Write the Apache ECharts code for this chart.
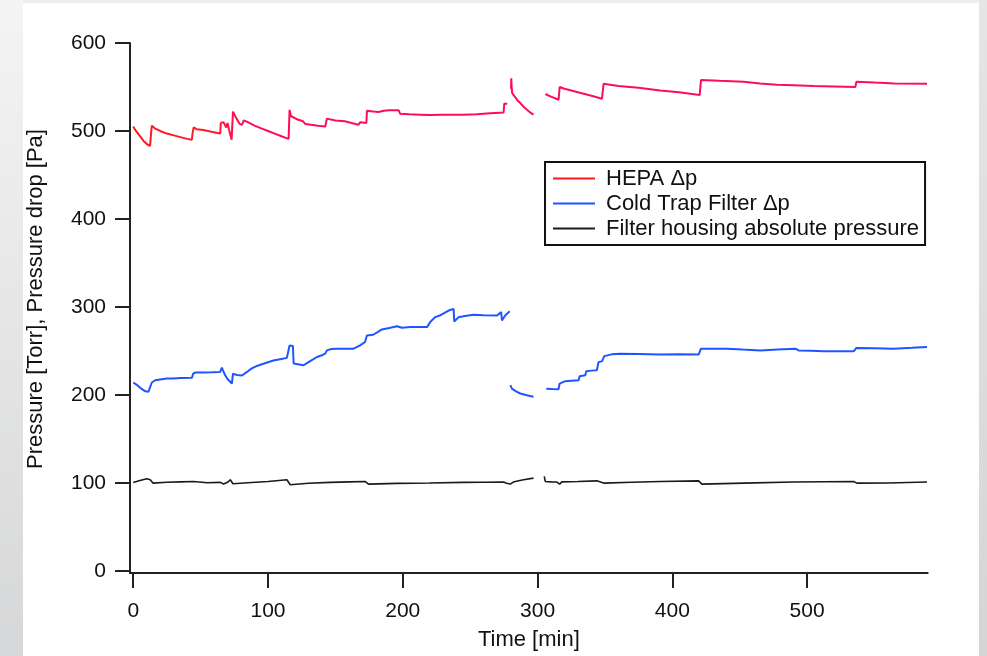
<!DOCTYPE html>
<html>
<head>
<meta charset="utf-8">
<script src="https://cdn.jsdelivr.net/npm/echarts@6/dist/echarts.min.js"></script>
<style>
html,body{margin:0;padding:0;background:#fff;}
#chart{width:987px;height:656px;}
</style>
</head>
<body>
<div id="chart"></div>
<script>
// ---- data (time [min], value) ----
var xTicks = [0, 100, 200, 300, 400, 500];
var yTicks = [0, 100, 200, 300, 400, 500, 600];
var seriesNames = ['HEPA Δp', 'Cold Trap Filter Δp', 'Filter housing absolute pressure'];

var hepaData = [
  [0,505],[2,500],[5,494],[8,488],[11,484],[12.5,483],[13.2,497],[13.8,506],[16,503],[20,500],[25,497],[30,495],[35,493],[40,491],[43.5,490],
  [44,497],[44.8,504],[47,502],[52,501],[58,499],[64.5,497],[65,509],[67,510],[68,507],[69,504],[70,509],[71,502],[72.5,493],[73,490],
  [74,522],[76,516],[79,508],[80.7,507],[82,512],[85,510],[90,506],[95,503],[100,500],[105,497],[110,494],[115.3,491],
  [116,524],[117,517],[118,515],[122,513],[126,511],[127.6,508],[132,507],[137,506],[142.5,505],[143.7,514],[150,512],[157,511],
  [162,509],[167,507],[168.5,510],[173,509],[173.4,523],[178,522],[182,521.6],[186,523],[190,523.4],[197,523.4],[198,519.6],
  [205,519],[213,518.5],[220,518],[230,518.5],[245,518.5],[255,519],[265,520],[274.8,521],[275.3,531],[277.5,531],
  null,
  [280.3,548],[280.5,560],[280.8,550],[281.2,543],[282.2,541],[285,535],[287.2,531.7],[290,527],[292.2,524],[295,520.5],[297,518.5],
  null,
  [305.8,542],[310,539],[315.6,535.5],[316.4,550],[320,548],[330,544],[340,540],[347.8,536.6],[349,553.6],[360,551],[375,549],
  [391,546],[405,544],[420.3,541],[421.3,558],[435,557],[453,556],[465,554],[477.7,552.5],[490,552],[505,551],[520,550.5],
  [535.8,550],[536.6,556],[550,555],[565,554],[589,553.6]
];

var coldTrapData = [
  [0,214],[3,211],[6,207],[9,204],[11.3,203.5],[12.5,204],[13.8,214],[16.3,216.6],[20,217.5],[25,218.5],[30,218.5],[35,219],[43.5,219.3],
  [44.5,224],[46,225.3],[52,225.5],[58,225.7],[64.5,226],[65.8,231],[66.5,228],[68.3,222],[70,218],[73.2,212.8],[74,224],[77,222.5],
  [80.7,222],[84.4,226],[88,230],[91.8,232.8],[96,235],[100,237],[104,239],[109,240.5],[114,242],[114.5,243.5],[116,256],[118.5,255.5],
  [119,235.5],[123,234.5],[126.4,233.6],[131,238],[136.3,243],[140,245],[142.5,246.8],[143.7,250.5],[147,252],[151,252.5],[157,252.5],
  [163.5,252.5],[168,256],[172,260],[173.4,267.5],[178,268.3],[181,271],[184.5,274.3],[190,276],[195.7,278],[199.4,276.2],[205.6,277],
  [212,277],[218,277],[220.4,282.7],[224,288.3],[228,290.5],[234,295.8],[237.7,297.7],[238.2,283.4],[241.4,288.3],[246,289.5],
  [252.5,291],[260,290.5],[270,290.2],[273,294],[273.6,284.5],[276,290.2],[279.3,295],
  null,
  [279.8,211],[281,207],[284,204],[287.2,201.5],[292,199.5],[297,197.8],
  null,
  [306.5,207],[311,206.5],[315.6,206.4],[316.4,212.8],[320.6,215.5],[325,216],[330.5,216.6],[331.2,221],[335.4,222.2],[336.2,226.8],
  [340,227.5],[344,228],[345.3,237.4],[347.8,238],[349.5,244],[355,246],[361.4,246.8],[375,246.5],[391,245.7],[405,246],[419.5,245.7],
  [421.3,252.5],[430,252.5],[440.6,252.5],[452,251.5],[465.3,250.5],[478,251.5],[491.3,252.5],[493.7,250.5],[503,250],[512.3,249.4],
  [534.5,249.4],[536.6,253.3],[550,253],[564,252.5],[578,253.5],[589,254.4]
];

var housingData = [
  [0,100.4],[5,102.5],[10,104.5],[12.6,103.4],[14.6,99.6],[25,100.5],[35,101],[44.7,101.5],[45,99.6],[55,100],[64.6,100.4],[67,98.5],
  [70,100.5],[72,103.4],[73,102],[74,98.8],[85,100],[100,101.5],[114,103.4],[116.5,97.7],[130,99.5],[146,100.4],[160,101],[172,101.5],
  [174.6,98.5],[195.7,99.3],[220,99.8],[245,100.4],[260,100.6],[274.8,100.8],[277,99.5],[279.8,98.5],[282,100.8],[286,102.2],
  [289.6,103.4],[297,105.3],
  null,
  [305,107.2],[305.7,101.5],[310,101],[314.4,100.8],[316.4,98.5],[318,101],[330,101.5],[344,102.2],[349,99.6],[370,100.5],[391,101.5],
  [419.5,102.2],[422,98.5],[453,99.6],[490,100.8],[534.5,101.5],[537,99.6],[560,99.8],[589,100.8]
];

// ---- chart ----
var FONT = '"Liberation Sans", Arial, sans-serif';
var chart = echarts.init(document.getElementById('chart'), null, {renderer: 'canvas'});

function toSeriesData(arr) {
  return arr.map(function (d) { return d === null ? [null, null] : d; });
}

var option = {
  backgroundColor: '#ffffff',
  animation: false,
  graphic: [
    {type: 'rect', left: 0, top: 0, shape: {width: 23, height: 656}, silent: true,
     style: {fill: {type: 'linear', x: 0, y: 0, x2: 0, y2: 1, colorStops: [{offset: 0, color: '#f4f4f4'}, {offset: 1, color: '#d6d7d8'}]}}},
    {type: 'rect', left: 23, top: 0, shape: {width: 956, height: 3}, silent: true, style: {fill: '#eeeeee'}},
    {type: 'rect', left: 979, top: 0, shape: {width: 8, height: 656}, silent: true,
     style: {fill: {type: 'linear', x: 0, y: 0, x2: 0, y2: 1, colorStops: [{offset: 0, color: '#e4e5e6'}, {offset: 1, color: '#d4d5d6'}]}}}
  ],
  grid: {left: 130, right: 59.3, top: 43, bottom: 80.7, containLabel: false},
  legend: {
    orient: 'vertical',
    left: 545, top: 162,
    padding: [4, 6, 4, 8],
    itemGap: 0,
    itemWidth: 42,
    itemHeight: 2,
    icon: 'rect',
    borderColor: '#111',
    borderWidth: 2,
    backgroundColor: '#fff',
    textStyle: {fontFamily: FONT, fontSize: 22, color: '#111', lineHeight: 25, padding: [0, 0, 0, 6]},
    data: seriesNames
  },
  xAxis: {
    type: 'value',
    min: -2.4, max: 589.5,
    name: 'Time [min]',
    nameLocation: 'middle',
    nameGap: 56,
    nameTextStyle: {fontFamily: FONT, fontSize: 22, color: '#111'},
    axisLine: {show: true, onZero: false, lineStyle: {color: '#222', width: 2}},
    axisTick: {show: true, inside: false, length: 15, customValues: xTicks, lineStyle: {color: '#222', width: 2}},
    axisLabel: {customValues: xTicks, margin: 28, fontFamily: FONT, fontSize: 21, color: '#111'},
    splitLine: {show: false}
  },
  yAxis: {
    type: 'value',
    min: -2.6, max: 600,
    name: 'Pressure [Torr], Pressure drop [Pa]',
    nameLocation: 'middle',
    nameGap: 83,
    nameRotate: 90,
    nameTextStyle: {fontFamily: FONT, fontSize: 22, color: '#111', padding: [0, 0, 0, 18]},
    axisLine: {show: true, onZero: false, lineStyle: {color: '#222', width: 2}},
    axisTick: {show: true, inside: false, length: 15, customValues: yTicks, lineStyle: {color: '#222', width: 2}},
    axisLabel: {customValues: yTicks, margin: 24, fontFamily: FONT, fontSize: 21, color: '#111'},
    splitLine: {show: false}
  },
  series: [
    {
      name: seriesNames[0], type: 'line', data: toSeriesData(hepaData),
      symbol: 'none', showSymbol: false, connectNulls: false,
      itemStyle: {color: '#ff1a1a'},
      lineStyle: {width: 2, color: {type: 'linear', x: 0, y: 0, x2: 1, y2: 0,
        colorStops: [{offset: 0, color: '#ff1818'}, {offset: 0.09, color: '#ff1a2a'}, {offset: 0.14, color: '#ff0c55'}, {offset: 1, color: '#ff0c5c'}]}},
      z: 3
    },
    {
      name: seriesNames[1], type: 'line', data: toSeriesData(coldTrapData),
      symbol: 'none', showSymbol: false, connectNulls: false,
      itemStyle: {color: '#1f55ff'},
      lineStyle: {width: 2, color: '#1f55ff'},
      z: 2
    },
    {
      name: seriesNames[2], type: 'line', data: toSeriesData(housingData),
      symbol: 'none', showSymbol: false, connectNulls: false,
      itemStyle: {color: '#1a1a1a'},
      lineStyle: {width: 1.6, color: '#1a1a1a'},
      z: 1
    }
  ]
};
chart.setOption(option);
</script>
</body>
</html>
